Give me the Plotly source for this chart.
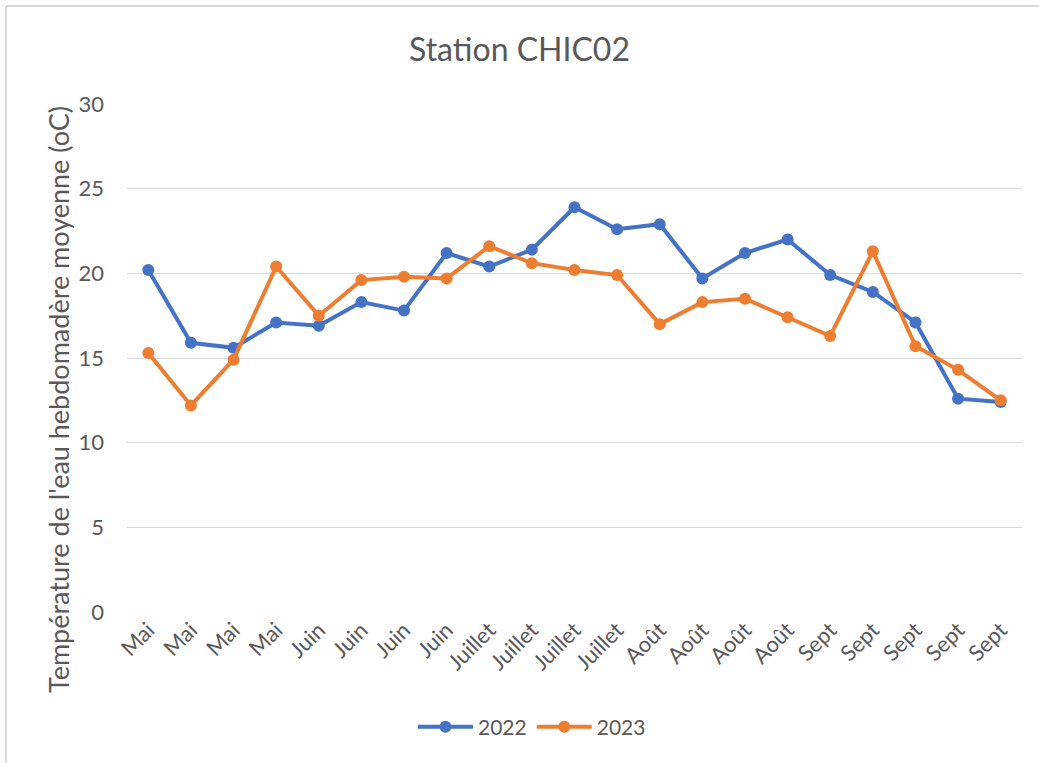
import plotly.graph_objects as go

mois = ['Mai', 'Mai', 'Mai', 'Mai', 'Juin', 'Juin', 'Juin', 'Juin',
        'Juillet', 'Juillet', 'Juillet', 'Juillet', 'Août', 'Août', 'Août', 'Août',
        'Sept', 'Sept', 'Sept', 'Sept', 'Sept']
t_2022 = [20.2, 15.9, 15.6, 17.1, 16.9, 18.3, 17.8, 21.2, 20.4, 21.4, 23.9,
          22.6, 22.9, 19.7, 21.2, 22.0, 19.9, 18.9, 17.1, 12.6, 12.4]
t_2023 = [15.3, 12.2, 14.9, 20.4, 17.5, 19.6, 19.8, 19.7, 21.6, 20.6, 20.2,
          19.9, 17.0, 18.3, 18.5, 17.4, 16.3, 21.3, 15.7, 14.3, 12.5]

idx = list(range(len(mois)))

W, H = 1039, 763
ml, mt = 127, 104
mr = W - 1022
mb = H - 612
pw, ph = W - ml - mr, H - mt - mb

fig = go.Figure()
fig.add_trace(go.Scatter(x=idx, y=t_2022, name='2022', mode='lines+markers',
                         line=dict(color='#4472C4', width=4),
                         marker=dict(size=12, color='#4472C4')))
fig.add_trace(go.Scatter(x=idx, y=t_2023, name='2023', mode='lines+markers',
                         line=dict(color='#ED7D31', width=4),
                         marker=dict(size=12, color='#ED7D31')))

border = dict(color='#D9D9D9', width=2)
fig.update_layout(
    width=W, height=H,
    margin=dict(l=ml, r=mr, t=mt, b=mb),
    paper_bgcolor='white', plot_bgcolor='white',
    font=dict(family='Lato, sans-serif', color='#595959'),
    title=dict(text='Station CHIC02', x=0.5, xanchor='center',
               y=1 - 50 / H, yanchor='middle',
               font=dict(size=32, color='#595959')),
    xaxis=dict(tickmode='array', tickvals=idx, ticktext=mois, tickangle=-45,
               range=[-0.5, len(mois) - 0.5], showgrid=False, zeroline=False,
               showline=False, tickfont=dict(size=22, color='#595959')),
    yaxis=dict(range=[0, 30], dtick=5, showgrid=True, gridcolor='#D9D9D9',
               gridwidth=1, zeroline=False, ticks='', ticklen=0,
               ticklabelstandoff=22,
               tickfont=dict(size=22, color='#595959')),
    legend=dict(orientation='h', x=(532 - ml) / pw, xanchor='center',
                y=-(727 - 612) / ph, yanchor='middle', itemwidth=55,
                font=dict(size=21, color='#595959')),
    annotations=[dict(text="Température de l'eau hebdomadère moyenne (oC)",
                      textangle=-90, showarrow=False,
                      xref='paper', yref='paper',
                      x=(58 - ml) / pw, y=(612 - 400) / ph,
                      xanchor='center', yanchor='middle',
                      font=dict(size=27, color='#595959'))],
    shapes=[
        # outer chart frame (top and left edges visible in the crop)
        dict(type='line', xref='paper', yref='paper',
             x0=(6 - ml) / pw, x1=(W - ml) / pw,
             y0=1 + (mt - 6) / ph, y1=1 + (mt - 6) / ph, line=border),
        dict(type='line', xref='paper', yref='paper',
             x0=(6 - ml) / pw, x1=(6 - ml) / pw,
             y0=1 + (mt - 6) / ph, y1=-mb / ph, line=border),
    ],
)

fig.write_html('out.html', config={'displayModeBar': False},
               post_script="document.body.style.margin='0';")
